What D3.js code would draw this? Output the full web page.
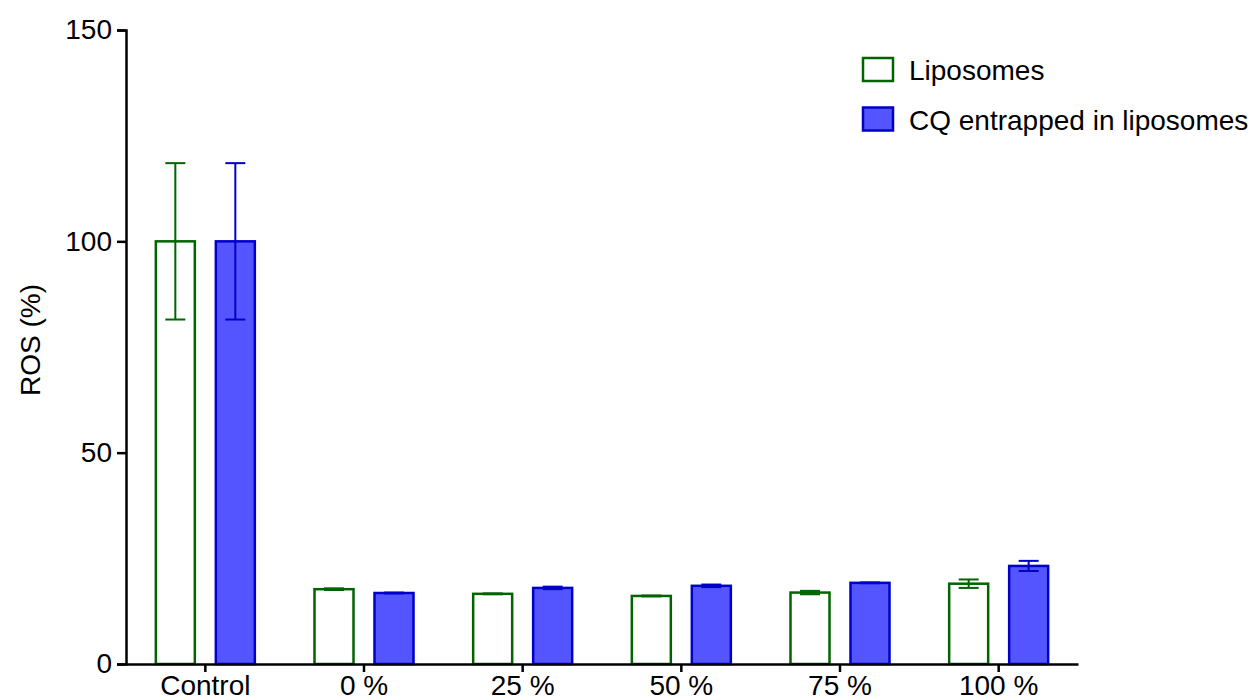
<!DOCTYPE html>
<html>
<head>
<meta charset="utf-8">
<script src="https://cdn.jsdelivr.net/npm/d3@7"></script>
<style>
  html, body { margin: 0; padding: 0; background: #fff; }
  svg { display: block; font-family: "Liberation Sans", Arial, sans-serif; }
</style>
</head>
<body>
<svg id="chart" width="1250" height="700"></svg>
<script>
// Groups and series
const categories = ["Control", "0 %", "25 %", "50 %", "75 %", "100 %"];
const seriesNames = ["Liposomes", "CQ entrapped in liposomes"];
const liposomeMean = [100, 17.7, 16.6, 16.1, 16.9, 19.0];
const liposomeErr  = [18.5, 0.2, 0.1, 0.1, 0.4, 1.0];
const cqMean       = [100, 16.8, 18.0, 18.5, 19.2, 23.2];
const cqErr        = [18.5, 0.1, 0.3, 0.3, 0.1, 1.2];
const yTicks = [0, 50, 100, 150];

const seriesStyle = [
  { stroke: "#006400", fill: "#ffffff" },
  { stroke: "#0000c8", fill: "#5555ff" }
];

const series = [
  { name: seriesNames[0], mean: liposomeMean, err: liposomeErr, style: seriesStyle[0] },
  { name: seriesNames[1], mean: cqMean, err: cqErr, style: seriesStyle[1] }
];

const svg = d3.select("#chart");
const plotLeft = 126, plotRight = 1078, plotTop = 30, plotBottom = 664;
const fontSize = 28;

const x = d3.scaleBand().domain(categories).range([plotLeft, plotRight]).padding(0);
const y = d3.scaleLinear().domain([0, 150]).range([plotBottom, plotTop]);

const barW = 39;
const offsets = [-30, 30];
const capW = 20;

// Bars with error bars
series.forEach((s, si) => {
  categories.forEach((c, i) => {
    const cx = x(c) + x.bandwidth() / 2 + offsets[si];
    const yHi = y(s.mean[i] + s.err[i]);
    const yLo = y(s.mean[i] - s.err[i]);
    svg.append("rect")
      .attr("x", cx - barW / 2)
      .attr("y", y(s.mean[i]))
      .attr("width", barW)
      .attr("height", y(0) - y(s.mean[i]))
      .attr("fill", s.style.fill)
      .attr("stroke", s.style.stroke)
      .attr("stroke-width", 2.5);
    const e = svg.append("g").attr("stroke", s.style.stroke).attr("stroke-width", 2);
    e.append("line").attr("x1", cx).attr("x2", cx).attr("y1", yHi).attr("y2", yLo);
    e.append("line").attr("x1", cx - capW / 2).attr("x2", cx + capW / 2).attr("y1", yHi).attr("y2", yHi);
    e.append("line").attr("x1", cx - capW / 2).attr("x2", cx + capW / 2).attr("y1", yLo).attr("y2", yLo);
  });
});

// Y axis
const yAxis = svg.append("g")
  .attr("transform", `translate(${plotLeft},0)`)
  .call(d3.axisLeft(y).tickValues(yTicks).tickSize(9).tickPadding(5).tickFormat(d3.format("d")));
yAxis.select(".domain").attr("stroke", "#000").attr("stroke-width", 2.5);
yAxis.selectAll(".tick line").attr("stroke", "#000").attr("stroke-width", 2.5);
yAxis.selectAll(".tick text")
  .attr("font-size", fontSize).attr("fill", "#000")
  .attr("font-family", "Liberation Sans, Arial, sans-serif");

// X axis
const xAxis = svg.append("g")
  .attr("transform", `translate(0,${plotBottom})`)
  .call(d3.axisBottom(x).tickSize(8).tickSizeOuter(0).tickPadding(3));
xAxis.select(".domain").attr("stroke", "#000").attr("stroke-width", 2.5);
xAxis.selectAll(".tick line").attr("stroke", "#000").attr("stroke-width", 2.5);
xAxis.selectAll(".tick text")
  .attr("font-size", fontSize).attr("fill", "#000")
  .attr("font-family", "Liberation Sans, Arial, sans-serif");

// Y axis title
svg.append("text")
  .attr("transform", "translate(40,340) rotate(-90)")
  .attr("text-anchor", "middle")
  .attr("font-size", fontSize)
  .attr("fill", "#000")
  .text("ROS (%)");

// Legend
const legend = svg.append("g").attr("transform", "translate(863,58)");
series.forEach((s, i) => {
  const row = legend.append("g").attr("transform", `translate(0,${i * 49.5})`);
  row.append("rect")
    .attr("x", 0).attr("y", 0).attr("width", 30).attr("height", 23)
    .attr("fill", s.style.fill).attr("stroke", s.style.stroke).attr("stroke-width", 2.5);
  row.append("text")
    .attr("x", 46).attr("y", 22)
    .attr("font-size", fontSize).attr("fill", "#000")
    .text(s.name);
});
</script>
</body>
</html>
